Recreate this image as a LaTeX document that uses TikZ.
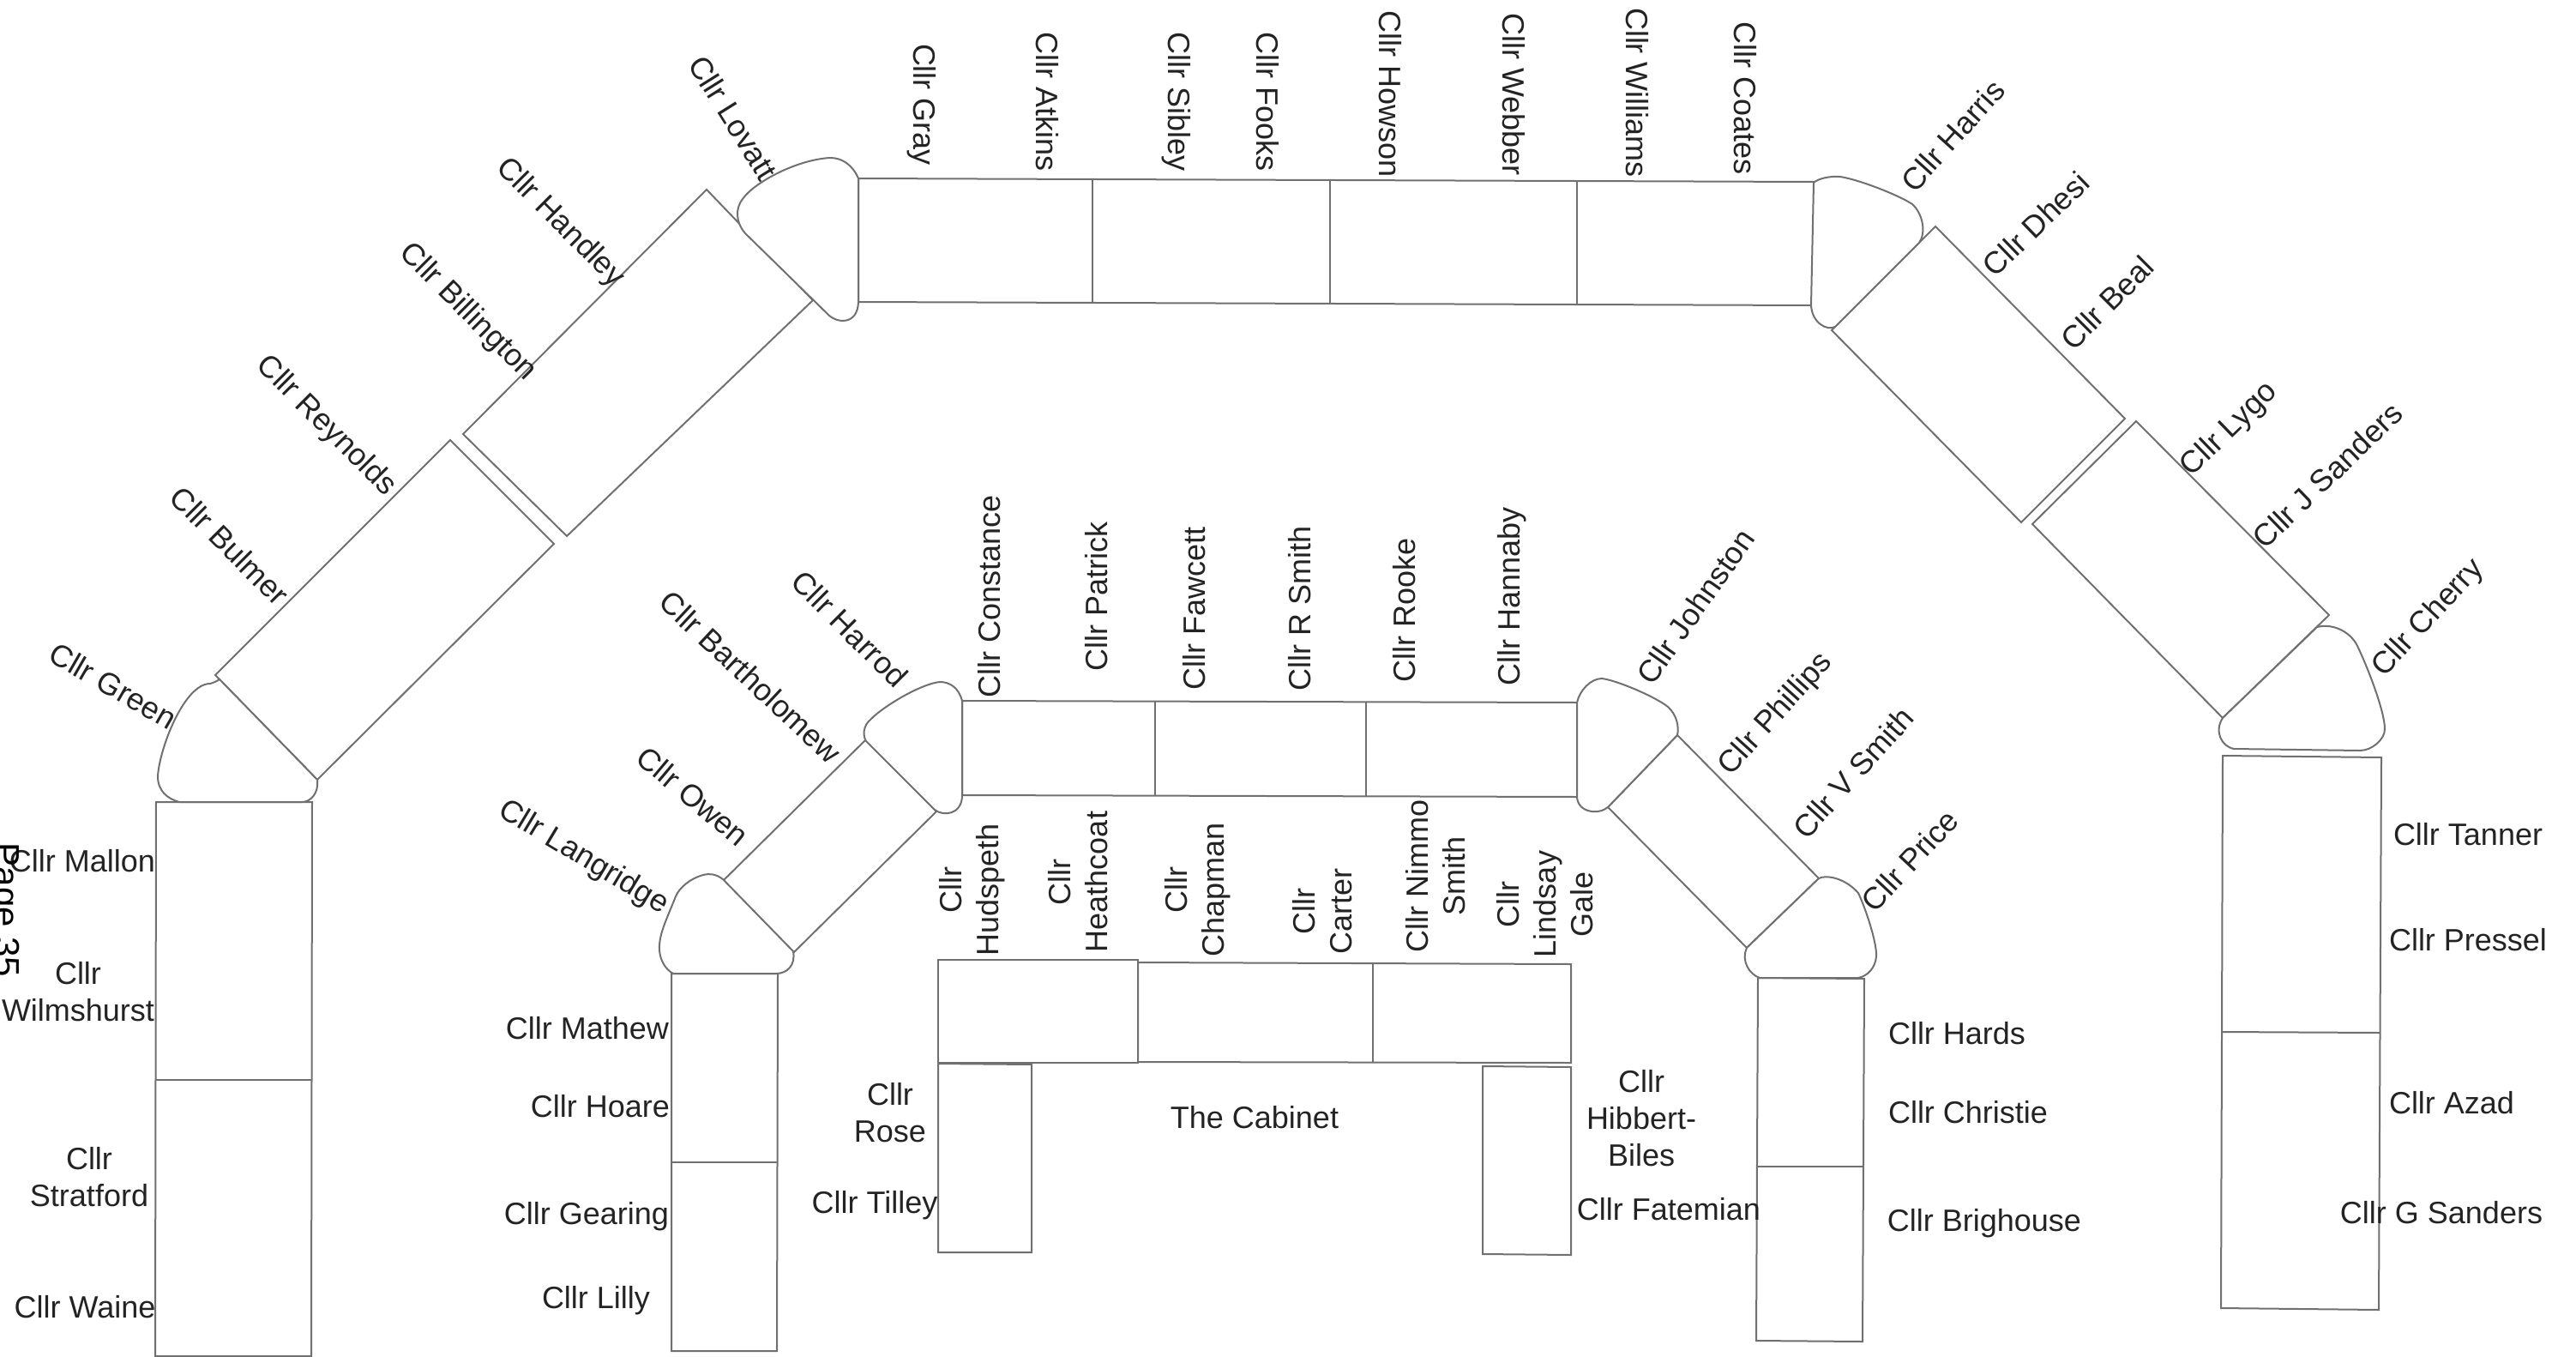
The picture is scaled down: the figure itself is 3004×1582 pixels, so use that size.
\documentclass[tikz,border=0pt]{standalone}
\usepackage{fontspec}
\setmainfont{Liberation Sans}
\definecolor{ln}{HTML}{707070}
\definecolor{tx}{HTML}{232323}
\tikzset{
  x=1pt,y=-1pt,
  box/.style={draw=ln,line width=2pt,fill=white,line join=miter},
  rib/.style={draw=ln,line width=2pt},
  lbl/.style={text=tx,font=\fontsize{36}{43}\selectfont,inner sep=0pt,align=center},
  pg/.style={text=black,font=\fontsize{42}{48}\selectfont,inner sep=0pt,anchor=base,rotate=-90}
}
\begin{document}
\begin{tikzpicture}
\useasboundingbox (0,0) rectangle (3004,1582);
% left outer column
\draw[box] (182,935) -- (364,935) -- (363,1581) -- (181,1581) -- cycle;
\draw[rib] (182,1259) -- (364,1259);
% long diagonals, left
\draw[box] (251,787) -- (525,513) -- (646,634) -- (370,909) -- cycle;
\draw[box] (540,506) -- (824,221) -- (948,350) -- (661,625) -- cycle;
% top band
\draw[box] (1001,208) -- (2115,212) -- (2115,356) -- (1001,352) -- cycle;
\draw[rib] (1274,209) -- (1274,353);
\draw[rib] (1551,210) -- (1551,354);
\draw[rib] (1839,211) -- (1839,355);
% long diagonals, right
\draw[box] (2257,264) -- (2478,488) -- (2357,609) -- (2136,385) -- cycle;
\draw[box] (2491,491) -- (2716,717) -- (2592,837) -- (2370,611) -- cycle;
% right outer column
\draw[box] (2592,881) -- (2777,883) -- (2774,1527) -- (2590,1525) -- cycle;
\draw[rib] (2591,1203) -- (2775,1204);
% inner band
\draw[box] (1122,817) -- (1839,819) -- (1839,929) -- (1122,927) -- cycle;
\draw[rib] (1347,818) -- (1347,928);
\draw[rib] (1593,818) -- (1593,928);
% inner diagonals
\draw[box] (843,1027) -- (1010,862) -- (1092,946) -- (925,1111) -- cycle;
\draw[box] (1956,857) -- (2121,1024) -- (2037,1105) -- (1875,941) -- cycle;
% inner columns
\draw[box] (783,1135) -- (907,1135) -- (906,1575) -- (783,1575) -- cycle;
\draw[rib] (783,1355) -- (907,1355);
\draw[box] (2050,1140) -- (2174,1141) -- (2172,1564) -- (2048,1563) -- cycle;
\draw[rib] (2049,1360) -- (2173,1360);
% cabinet
\draw[box] (1327,1122) -- (1832,1124) -- (1832,1239) -- (1327,1238) -- cycle;
\draw[rib] (1601,1123) -- (1601,1239);
\draw[box] (1094,1119) -- (1327,1119) -- (1327,1239) -- (1094,1239) -- cycle;
\draw[box] (1094,1240) -- (1203,1241) -- (1203,1460) -- (1094,1460) -- cycle;
\draw[box] (1729,1243) -- (1832,1244) -- (1832,1463) -- (1729,1462) -- cycle;
% rounded corner pieces
\draw[box] (256,792) -- (370,909) .. controls (372,925) and (362,935) .. (352,935)
  -- (209,935) .. controls (195,931) and (184,922) .. (184,905)
  .. controls (186,872) and (215,797) .. (245,797) .. controls (249,796) and (253,794) .. (256,792) -- cycle;
\draw[box] (1001,208) .. controls (994,192) and (982,184) .. (968,184)
  .. controls (930,186) and (880,212) .. (866,232)
  .. controls (858,242) and (857,258) .. (869,272) -- (965,366)
  .. controls (975,377) and (1000,380) .. (1001,352) -- cycle;
\draw[box] (2115,213) .. controls (2120,208) and (2135,205) .. (2146,206)
  .. controls (2170,210) and (2215,228) .. (2230,238)
  .. controls (2243,250) and (2246,272) .. (2238,283) -- (2140,381)
  .. controls (2130,386) and (2113,376) .. (2112,356) -- cycle;
\draw[box] (2702,731) .. controls (2722,726) and (2742,738) .. (2749,753)
  .. controls (2762,780) and (2781,830) .. (2781,850)
  .. controls (2781,862) and (2766,875) .. (2752,875) -- (2605,873)
  .. controls (2590,870) and (2582,852) .. (2592,837) -- cycle;
\draw[box] (1122,817) .. controls (1118,802) and (1108,795) .. (1096,795)
  .. controls (1075,797) and (1032,822) .. (1016,838)
  .. controls (1006,846) and (1006,858) .. (1010,864) -- (1090,944)
  .. controls (1100,952) and (1122,950) .. (1122,927) -- cycle;
\draw[box] (1839,819) .. controls (1842,805) and (1855,791) .. (1868,791)
  .. controls (1885,793) and (1930,812) .. (1945,824)
  .. controls (1956,834) and (1958,848) .. (1956,857) -- (1875,941)
  .. controls (1865,950) and (1840,948) .. (1839,929) -- cycle;
\draw[box] (2121,1024) .. controls (2128,1020) and (2150,1022) .. (2167,1041)
  .. controls (2176,1060) and (2189,1100) .. (2188,1115)
  .. controls (2187,1128) and (2178,1138) .. (2167,1140) -- (2052,1140)
  .. controls (2040,1136) and (2030,1120) .. (2037,1105) -- cycle;
\draw[box] (843,1025) .. controls (835,1019) and (828,1018) .. (820,1020)
  .. controls (805,1024) and (792,1035) .. (788,1045)
  .. controls (776,1075) and (768,1090) .. (769,1108)
  .. controls (770,1120) and (776,1130) .. (785,1135) -- (905,1135)
  .. controls (918,1135) and (928,1125) .. (925,1109) -- cycle;
% top row labels
\node[lbl,rotate=-90] (gray) at (1075,122) {Cllr Gray};
\node[lbl,rotate=-90] (atkins) at (1221,119) {Cllr Atkins};
\node[lbl,rotate=-90] (sibley) at (1372,119) {Cllr Sibley};
\node[lbl,rotate=-90] (fooks) at (1478,119) {Cllr Fooks};
\node[lbl,rotate=-90] (howson) at (1621,110) {Cllr Howson};
\node[lbl,rotate=-90] (webber) at (1765,110) {Cllr Webber};
\node[lbl,rotate=-90] (williams) at (1909,108) {Cllr Williams};
\node[lbl,rotate=-90] (coates) at (2035,115) {Cllr Coates};
% inner row labels
\node[lbl,rotate=90] (constance) at (1154,695) {Cllr Constance};
\node[lbl,rotate=90] (patrick) at (1279,695) {Cllr Patrick};
\node[lbl,rotate=90] (fawcett) at (1393,709) {Cllr Fawcett};
\node[lbl,rotate=90] (rsmith) at (1516,709) {Cllr R Smith};
\node[lbl,rotate=90] (rooke) at (1638,711) {Cllr Rooke};
\node[lbl,rotate=90] (hannaby) at (1763,695) {Cllr Hannaby};
% cabinet labels
\node[lbl,rotate=90] (hudspeth) at (1134,1037) {Cllr\\Hudspeth};
\node[lbl,rotate=90] (heathcoat) at (1257,1028) {Cllr\\Heathcoat};
\node[lbl,rotate=90] (chapman) at (1397,1037) {Cllr\\Chapman};
\node[lbl,rotate=90] (carter) at (1542,1062) {Cllr\\Carter};
\node[lbl,rotate=90] (nimmo) at (1674,1021) {Cllr Nimmo\\Smith};
\node[lbl,rotate=90] (lindsay) at (1802,1054) {Cllr\\Lindsay\\Gale};
\node[lbl] (rose) at (1038,1297) {Cllr\\Rose};
\node[lbl] (tilley) at (1020,1405) {Cllr Tilley};
\node[lbl] (cabinet) at (1463,1303) {The Cabinet};
\node[lbl] (hibbert) at (1914,1304) {Cllr\\Hibbert-\\Biles};
\node[lbl] (fatemian) at (1946,1410) {Cllr Fatemian};
% left diagonal labels
\node[lbl,rotate=-30] (green) at (132,799) {Cllr Green};
\node[lbl,rotate=-45] (bulmer) at (268,636) {Cllr Bulmer};
\node[lbl,rotate=-45] (reynolds) at (380,497) {Cllr Reynolds};
\node[lbl,rotate=-45] (billington) at (545,364) {Cllr Billington};
\node[lbl,rotate=-45] (handley) at (653,260) {Cllr Handley};
\node[lbl,rotate=-58] (lovatt) at (855,137) {Cllr Lovatt};
\node[lbl,rotate=-31] (langridge) at (680,1000) {Cllr Langridge};
\node[lbl,rotate=-40] (owen) at (808,928) {Cllr Owen};
\node[lbl,rotate=-43] (bartholomew) at (875,789) {Cllr Bartholomew};
\node[lbl,rotate=-45] (harrod) at (991,733) {Cllr Harrod};
% right diagonal labels
\node[lbl,rotate=48] (harris) at (2277,158) {Cllr Harris};
\node[lbl,rotate=44] (dhesi) at (2374,261) {Cllr Dhesi};
\node[lbl,rotate=45] (beal) at (2457,353) {Cllr Beal};
\node[lbl,rotate=44] (lygo) at (2600,501) {Cllr Lygo};
\node[lbl,rotate=44] (jsanders) at (2714,554) {Cllr J Sanders};
\node[lbl,rotate=47] (cherry) at (2832,721) {Cllr Cherry};
\node[lbl,rotate=55] (johnston) at (1977,707) {Cllr Johnston};
\node[lbl,rotate=48] (phillips) at (2071,833) {Cllr Phillips};
\node[lbl,rotate=48] (vsmith) at (2161,901) {Cllr V Smith};
\node[lbl,rotate=47] (price) at (2227,1003) {Cllr Price};
% left column labels
\node[lbl] (mallon) at (96,1004) {Cllr Mallon};
\node[lbl] (wilmshurst) at (91,1156) {Cllr\\Wilmshurst};
\node[lbl] (stratford) at (104,1372) {Cllr\\Stratford};
\node[lbl] (waine) at (99,1524) {Cllr Waine};
\node[lbl] (mathew) at (685,1199) {Cllr Mathew};
\node[lbl] (hoare) at (700,1290) {Cllr Hoare};
\node[lbl] (gearing) at (684,1418) {Cllr Gearing};
\node[lbl] (lilly) at (695,1516) {Cllr Lilly};
% right column labels
\node[lbl] (hards) at (2282,1205) {Cllr Hards};
\node[lbl] (christie) at (2295,1297) {Cllr Christie};
\node[lbl] (brighouse) at (2314,1426) {Cllr Brighouse};
\node[lbl] (tanner) at (2878,973) {Cllr Tanner};
\node[lbl] (pressel) at (2878,1096) {Cllr Pressel};
\node[lbl] (azad) at (2859,1286) {Cllr Azad};
\node[lbl] (gsanders) at (2847,1414) {Cllr G Sanders};
% page number
\node[pg] (page) at (-6,1061) {Page 35};
\end{tikzpicture}
\end{document}
